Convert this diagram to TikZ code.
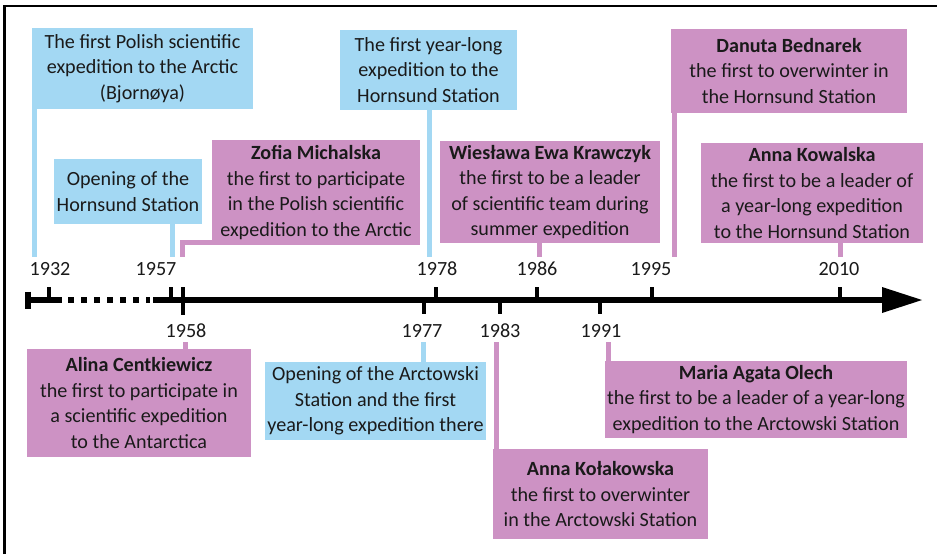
\documentclass[tikz,border=0pt]{standalone}
\usepackage{fontspec}
\setmainfont{Carlito}
\definecolor{bbox}{HTML}{A3D8F3}
\definecolor{pbox}{HTML}{CD92C4}
\definecolor{txt}{HTML}{1A1A1A}
\begin{document}
\begin{tikzpicture}[x=0.75pt,y=-0.75pt,
  box/.style={inner sep=0pt, align=center, font=\fontsize{15.1}{19.1}\selectfont, text=txt},
  wh/.style 2 args={minimum width=#1*0.75pt, minimum height=#2*0.75pt},
  bluebox/.style={box, fill=bbox},
  pinkbox/.style={box, fill=pbox},
  con/.style={line width=3.75pt},
  bcon/.style={con, draw=bbox},
  pcon/.style={con, draw=pbox},
  year/.style={font=\fontsize{15.1}{18}\selectfont, text=txt, inner sep=0pt},
  tickmark/.style={line width=3.6pt, black},
  axis/.style={line width=4.1pt, black}]
\path[use as bounding box] (0,0) rectangle (937,554);
\fill[white] (0,0) rectangle (937,554);
% frame
\draw[line width=1.9pt] (4.7,554) -- (4.7,6) -- (937,6);

% upper boxes
\node[bluebox, wh={221}{81}] (A) at (142.5,68.5) {The first Polish scientific\\expedition to the Arctic\\(Bjornøya)};
\node[bluebox, wh={148}{65}] (B) at (128,191.5) {Opening of the\\Hornsund Station};
\node[pinkbox, wh={208}{105}] (C) at (316,192.5) {{\bfseries Zofia Michalska}\\the first to participate\\in the Polish scientific\\expedition to the Arctic};
\node[bluebox, wh={177}{80}] (D) at (428.5,70) {The first year-long\\expedition to the\\Hornsund Station};
\node[pinkbox, wh={220}{102}] (E) at (550,192) {{\bfseries Wiesława Ewa Krawczyk}\\the first to be a leader\\of scientific team during\\summer expedition};
\node[pinkbox, wh={236}{84}] (F) at (789,71) {{\bfseries Danuta Bednarek}\\the first to overwinter in\\the Hornsund Station};
\node[pinkbox, wh={222}{100}] (G) at (812,193) {{\bfseries Anna Kowalska}\\the first to be a leader of\\a year-long expedition\\to the Hornsund Station};

% lower boxes
\node[pinkbox, wh={224}{108}] (H) at (139,403) {{\bfseries Alina Centkiewicz}\\the first to participate in\\a scientific expedition\\to the Antarctica};
\node[bluebox, wh={221}{78}] (I) at (375.5,401) {Opening of the Arctowski\\Station and the first\\year-long expedition there};
\node[pinkbox, wh={215}{90}] (J) at (600.5,494) {{\bfseries Anna Kołakowska}\\the first to overwinter\\in the Arctowski Station};
\node[pinkbox, wh={302}{77}] (K) at (756,399.5) {{\bfseries Maria Agata Olech}\\the first to be a leader of a year-long\\expedition to the Arctowski Station};

% connector free ends
\coordinate (cA) at (34.5,257);
\coordinate (cB) at (172.5,257);
\coordinate (cC) at (182.5,257);
\coordinate (cD) at (429.5,257);
\coordinate (cE) at (539.5,257);
\coordinate (cF) at (674.5,257);
\coordinate (cG) at (840.5,257);
\coordinate (cH) at (185,342);
\coordinate (cI) at (423.5,342);
\coordinate (cJ) at (496.5,342);
\coordinate (cK) at (608,342);

\draw[bcon] (cA |- A.south) -- (cA);
\draw[bcon] (cB |- B.south) -- (cB);
\draw[pcon] ([yshift=1.9pt]C.south west) -| (cC);
\draw[bcon] (cD |- D.south) -- (cD);
\draw[pcon] (cE |- E.south) -- (cE);
\draw[pcon] (cF |- F.south) -- (cF);
\draw[pcon] (cG |- G.south) -- (cG);
\draw[pcon] (cH |- H.north) -- (cH);
\draw[bcon] (cI |- I.north) -- (cI);
\draw[pcon] (cJ |- J.north) -- (cJ);
\draw[pcon] (cK |- K.north) -- (cK);

% axis
\draw[axis] (28,291.5) -- (28,309);
\draw[axis] (26,300) -- (62,300);
\draw[axis, dash pattern=on 4.6pt off 5.2pt] (68,300) -- (150,300);
\draw[axis] (153,300) -- (884,300);
\fill (882,287) -- (922,300) -- (882,313) -- cycle;

% ticks
\draw[tickmark] (49,287) -- (49,300);
\draw[tickmark] (171,287) -- (171,300);
\draw[tickmark] (183,287) -- (183,315);
\draw[tickmark] (436,287) -- (436,300);
\draw[tickmark] (424,300) -- (424,314);
\draw[tickmark] (500,300) -- (500,314);
\draw[tickmark] (537,287) -- (537,300);
\draw[tickmark] (600,300) -- (600,314);
\draw[tickmark] (652,287) -- (652,300);
\draw[tickmark] (840,287) -- (840,300);

% year labels
\node[year] (y1932) at (50,269) {1932};
\node[year] (y1957) at (156,269) {1957};
\node[year] (y1978) at (437,269) {1978};
\node[year] (y1986) at (537,269) {1986};
\node[year] (y1995) at (651,269) {1995};
\node[year] (y2010) at (839,269) {2010};
\node[year] (y1958) at (186,331) {1958};
\node[year] (y1977) at (422,331) {1977};
\node[year] (y1983) at (500,331) {1983};
\node[year] (y1991) at (601,331) {1991};
\end{tikzpicture}
\end{document}
